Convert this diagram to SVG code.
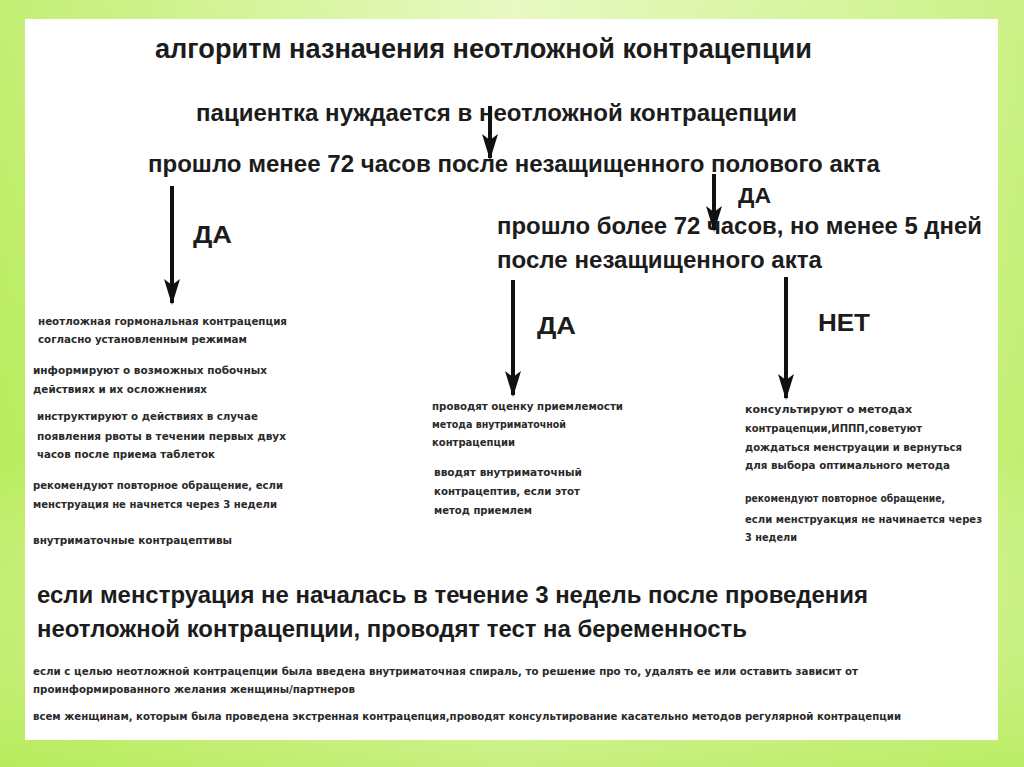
<svg xmlns="http://www.w3.org/2000/svg" width="1024" height="767" viewBox="0 0 1024 767">
  <defs>
    <linearGradient id="bgH" x1="0" y1="0" x2="1" y2="0">
      <stop offset="0" stop-color="#b9ec5c"/>
      <stop offset="0.5" stop-color="#e4f8b8"/>
      <stop offset="1" stop-color="#c2ef72"/>
    </linearGradient>
    <linearGradient id="bgV" x1="0" y1="0" x2="0" y2="1">
      <stop offset="0" stop-color="#ffffff" stop-opacity="0.15"/>
      <stop offset="0.6" stop-color="#ffffff" stop-opacity="0"/>
      <stop offset="1" stop-color="#b6ea5a" stop-opacity="0.6"/>
    </linearGradient>
    <marker id="ah" markerUnits="userSpaceOnUse" markerWidth="26" markerHeight="18" viewBox="0 0 26 18" refX="24" refY="9" orient="auto">
      <path d="M0,1 L26,9 L0,17 L6,9 z" fill="#111"/>
    </marker>
    <style>
      .big { font-family: "Liberation Sans", Arial, sans-serif; font-weight: bold; fill: #1c1c1c; }
      .sm { font-family: "DejaVu Sans", Verdana, sans-serif; font-weight: bold; font-size: 11px; fill: #2a2a2a; }
      .arrow { stroke: #111; stroke-width: 4; fill: none; marker-end: url(#ah); }
    </style>
  </defs>

  <rect x="0" y="0" width="1024" height="767" fill="url(#bgH)"/>
  <rect x="0" y="0" width="1024" height="767" fill="url(#bgV)"/>
  <rect x="25" y="19" width="973" height="721" fill="#ffffff"/>

  <g id="title">
    <text class="big" x="155" y="58" font-size="28" textLength="657" lengthAdjust="spacingAndGlyphs">алгоритм назначения неотложной контрацепции</text>
  </g>

  <g id="node-patient">
    <text class="big" x="196" y="121" font-size="24" textLength="601" lengthAdjust="spacingAndGlyphs">пациентка нуждается в неотложной контрацепции</text>
  </g>

  <g id="node-less72">
    <text class="big" x="148" y="172" font-size="23" textLength="732" lengthAdjust="spacingAndGlyphs">прошло менее 72 часов после незащищенного полового акта</text>
  </g>

  <g id="node-more72">
    <text class="big" x="497" y="234" font-size="23" textLength="485" lengthAdjust="spacingAndGlyphs">прошло более 72 часов, но менее 5 дней</text>
    <text class="big" x="497" y="268" font-size="23" textLength="325" lengthAdjust="spacingAndGlyphs">после незащищенного акта</text>
  </g>

  <g id="connectors">
    <line class="arrow" x1="490" y1="106" x2="490" y2="158"/>
    <line class="arrow" x1="172" y1="186" x2="172" y2="303"/>
    <line class="arrow" x1="714" y1="174" x2="714" y2="230"/>
    <line class="arrow" x1="513" y1="280" x2="513" y2="395"/>
    <line class="arrow" x1="786" y1="277" x2="786" y2="398"/>
    <text class="big" x="193" y="243" font-size="24" textLength="39" lengthAdjust="spacingAndGlyphs">ДА</text>
    <text class="big" x="738" y="203" font-size="22" textLength="33" lengthAdjust="spacingAndGlyphs">ДА</text>
    <text class="big" x="537" y="334" font-size="24" textLength="39" lengthAdjust="spacingAndGlyphs">ДА</text>
    <text class="big" x="818" y="331" font-size="24" textLength="52" lengthAdjust="spacingAndGlyphs">НЕТ</text>
  </g>

  <g id="node-left">
    <text class="sm" x="38" y="325" textLength="249" lengthAdjust="spacingAndGlyphs">неотложная гормональная контрацепция</text>
    <text class="sm" x="38" y="343" textLength="209" lengthAdjust="spacingAndGlyphs">согласно установленным режимам</text>
    <text class="sm" x="33" y="374" textLength="234" lengthAdjust="spacingAndGlyphs">информируют о возможных побочных</text>
    <text class="sm" x="33" y="393" textLength="174" lengthAdjust="spacingAndGlyphs">действиях и их осложнениях</text>
    <text class="sm" x="37" y="420" textLength="221" lengthAdjust="spacingAndGlyphs">инструктируют о действиях в случае</text>
    <text class="sm" x="37" y="440" textLength="249" lengthAdjust="spacingAndGlyphs">появления рвоты в течении первых двух</text>
    <text class="sm" x="37" y="458" textLength="178" lengthAdjust="spacingAndGlyphs">часов после приема таблеток</text>
    <text class="sm" x="33" y="489" textLength="250" lengthAdjust="spacingAndGlyphs">рекомендуют повторное обращение, если</text>
    <text class="sm" x="33" y="508" textLength="244" lengthAdjust="spacingAndGlyphs">менструация не начнется через 3 недели</text>
    <text class="sm" x="33" y="544" textLength="199" lengthAdjust="spacingAndGlyphs">внутриматочные контрацептивы</text>
  </g>

  <g id="node-middle">
    <text class="sm" x="432" y="410" textLength="191" lengthAdjust="spacingAndGlyphs">проводят оценку приемлемости</text>
    <text class="sm" x="432" y="428" textLength="134" lengthAdjust="spacingAndGlyphs">метода внутриматочной</text>
    <text class="sm" x="432" y="446" textLength="83" lengthAdjust="spacingAndGlyphs">контрацепции</text>
    <text class="sm" x="434" y="476" textLength="148" lengthAdjust="spacingAndGlyphs">вводят внутриматочный</text>
    <text class="sm" x="434" y="495" textLength="146" lengthAdjust="spacingAndGlyphs">контрацептив, если этот</text>
    <text class="sm" x="434" y="514" textLength="98" lengthAdjust="spacingAndGlyphs">метод приемлем</text>
  </g>

  <g id="node-right">
    <text class="sm" x="745" y="413" textLength="167" lengthAdjust="spacingAndGlyphs">консультируют о методах</text>
    <text class="sm" x="745" y="432" textLength="177" lengthAdjust="spacingAndGlyphs">контрацепции,ИППП,советуют</text>
    <text class="sm" x="745" y="451" textLength="217" lengthAdjust="spacingAndGlyphs">дождаться менструации и вернуться</text>
    <text class="sm" x="745" y="469" textLength="205" lengthAdjust="spacingAndGlyphs">для выбора оптимального метода</text>
    <text class="sm" x="745" y="502" textLength="200" lengthAdjust="spacingAndGlyphs">рекомендуют повторное обращение,</text>
    <text class="sm" x="745" y="523" textLength="237" lengthAdjust="spacingAndGlyphs">если менструакция не начинается через</text>
    <text class="sm" x="745" y="541" textLength="52" lengthAdjust="spacingAndGlyphs">3 недели</text>
  </g>

  <g id="node-test">
    <text class="big" x="37" y="603" font-size="23" textLength="831" lengthAdjust="spacingAndGlyphs">если менструация не началась в течение 3 недель после проведения</text>
    <text class="big" x="37" y="637" font-size="23" textLength="710" lengthAdjust="spacingAndGlyphs">неотложной контрацепции, проводят тест на беременность</text>
  </g>

  <g id="notes">
    <text class="sm" x="33" y="675" textLength="825" lengthAdjust="spacingAndGlyphs">если с целью неотложной контрацепции была введена внутриматочная спираль, то решение про то, удалять ее или оставить зависит от</text>
    <text class="sm" x="33" y="693" textLength="322" lengthAdjust="spacingAndGlyphs">проинформированного желания женщины/партнеров</text>
    <text class="sm" x="33" y="720" textLength="868" lengthAdjust="spacingAndGlyphs">всем женщинам, которым была проведена экстренная контрацепция,проводят консультирование касательно методов регулярной контрацепции</text>
  </g>
</svg>
